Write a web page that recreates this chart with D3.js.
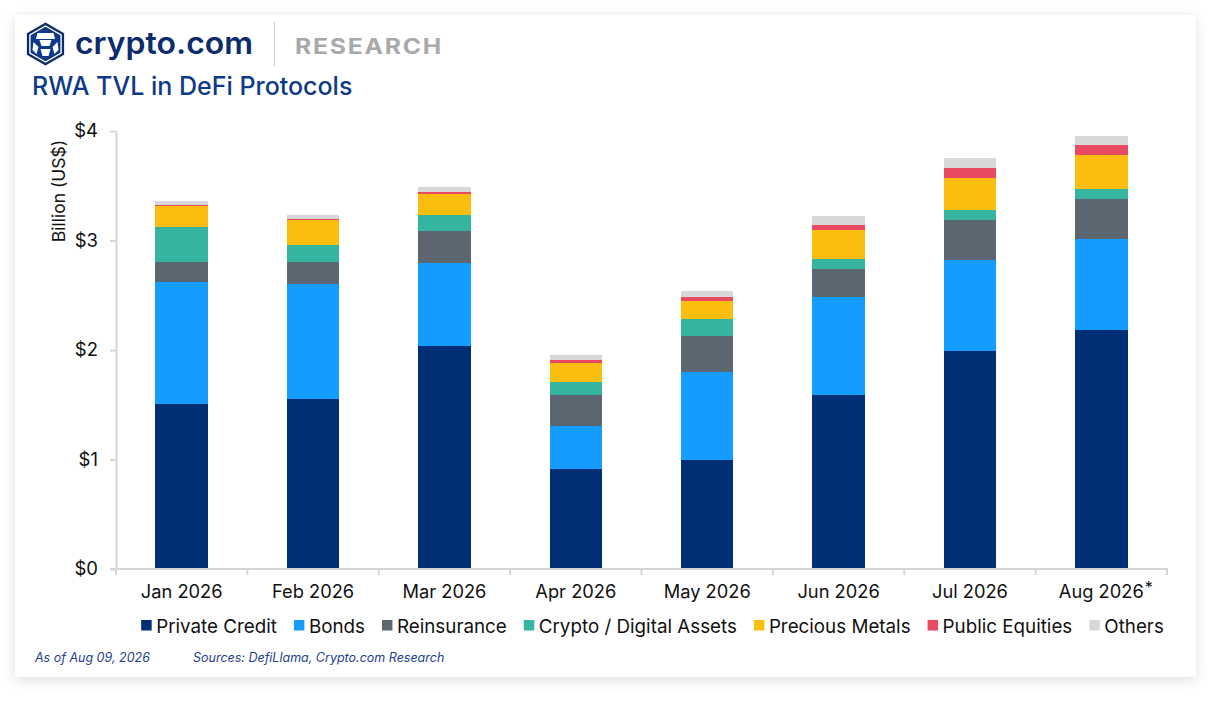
<!DOCTYPE html>
<html>
<head>
<meta charset="utf-8">
<script src="https://cdn.jsdelivr.net/npm/d3@7/dist/d3.min.js"></script>
<style>
  html, body { margin: 0; padding: 0; background: #ffffff; }
  body { width: 1220px; height: 701px; position: relative; overflow: hidden; font-family: Inter, "Noto Sans", sans-serif; }
  #card { position: absolute; left: 15px; top: 15px; width: 1181px; height: 662px; background: #fff;
          box-shadow: 0 3px 12px rgba(0,0,0,0.13); }
  svg { position: absolute; left: 0; top: 0; }
</style>
</head>
<body>
<div id="card"></div>
<svg id="chart" width="1220" height="701"></svg>
<script>
const months = ["Jan 2026", "Feb 2026", "Mar 2026", "Apr 2026", "May 2026", "Jun 2026", "Jul 2026", "Aug 2026"];
const seriesNames = ["Private Credit", "Bonds", "Reinsurance", "Crypto / Digital Assets", "Precious Metals", "Public Equities", "Others"];
const privateCredit = [1.51, 1.55, 2.04, 0.91, 1.00, 1.59, 1.99, 2.18];
const bonds         = [1.11, 1.05, 0.75, 0.40, 0.80, 0.89, 0.83, 0.83];
const reinsurance   = [0.18, 0.20, 0.30, 0.28, 0.33, 0.26, 0.37, 0.37];
const cryptoAssets  = [0.32, 0.155, 0.146, 0.12, 0.155, 0.09, 0.09, 0.09];
const preciousMetals= [0.195, 0.23, 0.19, 0.175, 0.165, 0.27, 0.29, 0.31];
const publicEquities= [0.01, 0.01, 0.018, 0.027, 0.037, 0.046, 0.09, 0.09];
const others        = [0.035, 0.037, 0.046, 0.046, 0.055, 0.08, 0.09, 0.08];
const yTicks = [0, 1, 2, 3, 4];
const colors = ["#002F76", "#149DFF", "#5C6670", "#35B4A0", "#FBBE0E", "#E84A62", "#D7D8D8"];

const seriesValues = [privateCredit, bonds, reinsurance, cryptoAssets, preciousMetals, publicEquities, others];
const table = months.map((m, i) => {
  const row = { month: m };
  seriesNames.forEach((s, j) => row[s] = seriesValues[j][i]);
  return row;
});

const svg = d3.select("#chart");
const FONT = "Inter, 'Noto Sans', sans-serif";

// ---- Header ----
const logo = svg.append("g").attr("transform", "translate(45.5,44)");
const hex = r => d3.range(6).map(k => {
  const a = Math.PI / 3 * k - Math.PI / 2;
  return [r * Math.cos(a), r * Math.sin(a)];
});
logo.append("polygon").attr("points", hex(21.5).map(p => p.join(",")).join(" ")).attr("fill", "#0c2c6c");
logo.append("polygon").attr("points", hex(18).map(p => p.join(",")).join(" ")).attr("fill", "none").attr("stroke", "#fff").attr("stroke-width", 1.4);
logo.append("polygon").attr("points", hex(16.5).map(p => p.join(",")).join(" ")).attr("fill", "#0f3a8c");
logo.append("path").attr("d", "M-8,-11 L8,-11 L9.5,-5 L-9.5,-5 Z").attr("fill", "#fff");
logo.append("path").attr("d", "M-6,-4 L6,-4 L4,2 L-4,2 Z").attr("fill", "#fff");
logo.append("path").attr("d", "M-12,-2 L-7,3 L-9,10 L-13,6 Z").attr("fill", "#fff");
logo.append("path").attr("d", "M12,-2 L7,3 L9,10 L13,6 Z").attr("fill", "#fff");
logo.append("path").attr("d", "M-5,5 L5,5 L3,12 L-3,12 Z").attr("fill", "#fff");

svg.append("text").attr("x", 75).attr("y", 54).attr("font-family", FONT).attr("font-weight", 600)
  .attr("font-size", 31).attr("fill", "#0c2c6c").attr("textLength", 178).attr("lengthAdjust", "spacingAndGlyphs")
  .text("crypto.com");
svg.append("line").attr("x1", 274.5).attr("x2", 274.5).attr("y1", 22).attr("y2", 66).attr("stroke", "#cfcfcf").attr("stroke-width", 1.2);
svg.append("text").attr("x", 295).attr("y", 54).attr("font-family", FONT).attr("font-weight", 700)
  .attr("font-size", 21).attr("fill", "#a7a9ab").attr("letter-spacing", 1.5).attr("textLength", 148)
  .attr("lengthAdjust", "spacingAndGlyphs").text("RESEARCH");
svg.append("text").attr("x", 32).attr("y", 95).attr("font-family", FONT).attr("font-weight", 500)
  .attr("font-size", 25).attr("fill", "#0e3a87").text("RWA TVL in DeFi Protocols");

// ---- Scales ----
const x = d3.scaleBand().domain(months).range([116, 1167]).paddingInner(0.6).paddingOuter(0.3);
const y = d3.scaleLinear().domain([0, 4]).range([569, 131]);

const stacked = d3.stack().keys(seriesNames)(table);
const axisColor = "#d6d6d6";

// ---- Bars ----
svg.append("g").selectAll("g").data(stacked).join("g")
  .attr("fill", (d, i) => colors[i])
  .selectAll("rect").data(d => d).join("rect")
  .attr("x", d => x(d.data.month))
  .attr("width", x.bandwidth())
  .attr("y", d => y(d[1]))
  .attr("height", d => y(d[0]) - y(d[1]))
  .attr("shape-rendering", "crispEdges");

// ---- Y axis ----
const yAxis = svg.append("g").attr("transform", "translate(116,0)")
  .call(d3.axisLeft(y).tickValues(yTicks).tickFormat(d => "$" + d).tickSize(6).tickSizeOuter(0).tickPadding(12));
yAxis.select(".domain").attr("stroke", axisColor).attr("stroke-width", 2);
yAxis.selectAll(".tick line").attr("stroke", axisColor).attr("stroke-width", 2);
yAxis.selectAll(".tick text").attr("font-family", FONT).attr("font-size", 18.5).attr("fill", "#111");

svg.append("text").attr("transform", "translate(65,191) rotate(-90)").attr("text-anchor", "middle")
  .attr("font-family", FONT).attr("font-size", 17.5).attr("fill", "#111").text("Billion (US$)");

// ---- X axis ----
const xAxis = svg.append("g").attr("transform", "translate(0,569)")
  .call(d3.axisBottom(x).tickSize(0).tickPadding(16).tickFormat(d => d));
xAxis.select(".domain").remove();
xAxis.selectAll(".tick text").attr("font-family", FONT).attr("font-size", 18.3).attr("fill", "#111");
const step = x.step();
const boundaries = months.map(m => x(m) - x.paddingOuter() * step).concat([x.range()[1]]);
svg.append("g").selectAll("line").data(boundaries).join("line")
  .attr("x1", d => d).attr("x2", d => d).attr("y1", 569).attr("y2", 575)
  .attr("stroke", axisColor).attr("stroke-width", 2);
svg.append("line").attr("x1", 110).attr("x2", 1168).attr("y1", 569).attr("y2", 569)
  .attr("stroke", axisColor).attr("stroke-width", 2);

const lastText = xAxis.selectAll(".tick").filter(d => d === months[months.length - 1]).select("text");
const lw = lastText.node().getComputedTextLength();
svg.append("text").attr("x", x(months[7]) + x.bandwidth() / 2 + lw / 2 + 1).attr("y", 593)
  .attr("font-family", FONT).attr("font-size", 16).attr("fill", "#111").text("*");

// ---- Legend ----
const legend = svg.append("g");
const items = legend.selectAll("g").data(seriesNames).join("g");
items.append("rect").attr("width", 10.5).attr("height", 10.5).attr("y", -6).attr("fill", (d, i) => colors[i]);
items.append("text").attr("x", 15).attr("y", 0).attr("dy", "0.36em").attr("font-family", FONT)
  .attr("font-size", 18.8).attr("fill", "#111").text(d => d);
const gap = 17;
const widths = [];
items.each(function() { widths.push(15 + d3.select(this).select("text").node().getComputedTextLength()); });
const total = d3.sum(widths) + gap * (widths.length - 1);
let cx = 652.5 - total / 2;
items.attr("transform", (d, i) => {
  const t = `translate(${cx},626)`;
  cx += widths[i] + gap;
  return t;
});

// ---- Footer ----
svg.append("text").attr("x", 35).attr("y", 662).attr("font-family", FONT).attr("font-style", "italic")
  .attr("font-size", 12.5).attr("fill", "#1e4090").text("As of Aug 09, 2026");
svg.append("text").attr("x", 193).attr("y", 662).attr("font-family", FONT).attr("font-style", "italic")
  .attr("font-size", 12.5).attr("fill", "#1e4090").text("Sources: DefiLlama, Crypto.com Research");
</script>
</body>
</html>
